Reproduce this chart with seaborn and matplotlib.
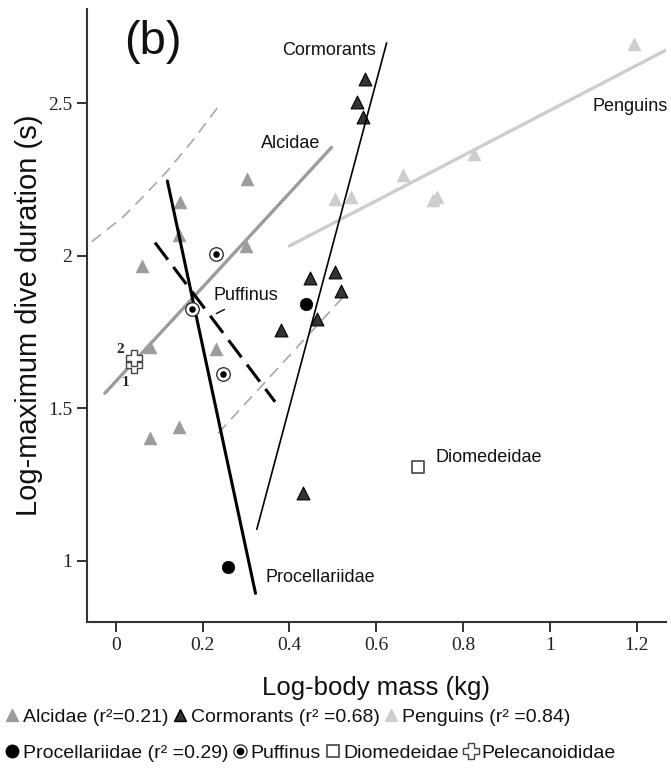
import matplotlib
matplotlib.use("Agg")
import matplotlib.pyplot as plt
import seaborn as sns
import pandas as pd
from matplotlib.lines import Line2D

sns.set_theme(style="white")
plt.rcParams['font.family'] = ['Liberation Sans', 'DejaVu Sans']

# ---------------- data (log body mass kg, log max dive duration s) ----------------
alc_x = [0.302, 0.148, 0.146, 0.300, 0.060, 0.079, 0.231, 0.146, 0.079]
alc_y = [2.250, 2.177, 2.068, 2.032, 1.966, 1.702, 1.694, 1.439, 1.401]
cor_x = [0.574, 0.555, 0.569, 0.505, 0.447, 0.519, 0.463, 0.380, 0.432]
cor_y = [2.578, 2.505, 2.456, 1.946, 1.926, 1.885, 1.792, 1.756, 1.221]
pen_x = [1.194, 0.826, 0.662, 0.731, 0.740, 0.505, 0.543]
pen_y = [2.694, 2.333, 2.265, 2.182, 2.193, 2.186, 2.193]
pro_x = [0.438, 0.258]
pro_y = [1.841, 0.980]
puf_x = [0.231, 0.175, 0.246]
puf_y = [2.005, 1.824, 1.612]
dio_x = [0.696]
dio_y = [1.306]
pel_x = [0.042, 0.042]
pel_y = [1.642, 1.664]
pel_lab = ['1', '2']

# fitted regression lines (end points)
alc_fit_x = [-0.025, 0.497]; alc_fit_y = [1.549, 2.355]
cor_fit_x = [0.325, 0.624]; cor_fit_y = [1.103, 2.698]
pen_fit_x = [0.400, 1.267]; pen_fit_y = [2.032, 2.674]
pro_fit_x = [0.119, 0.322]; pro_fit_y = [2.245, 0.893]
puf_fit_x = [0.0905, 0.367]; puf_fit_y = [2.043, 1.521]
ci_up_x = [-0.055, 0.0175, 0.0636, 0.117, 0.1787, 0.239]
ci_up_y = [2.046, 2.128, 2.194, 2.275, 2.380, 2.494]
ci_lo_x = [0.236, 0.528]; ci_lo_y = [1.418, 1.871]

x_ticks = [0, 0.2, 0.4, 0.6, 0.8, 1, 1.2]
x_ticklabels = ['0', '0.2', '0.4', '0.6', '0.8', '1', '1.2']
y_ticks = [1, 1.5, 2, 2.5]
y_ticklabels = ['1', '1.5', '2', '2.5']

C_ALC = '#9c9c9c'
C_COR = '#333333'
C_PEN = '#cdcdcd'
C_AX = '#333333'

fig = plt.figure(figsize=(6.71, 7.75), dpi=100)
ax = fig.add_axes([0.1292, 0.197, 0.8629, 0.7914])

# ---------------- lines ----------------
def line(x, y, **kw):
    sns.lineplot(x=x, y=y, ax=ax, sort=False, estimator=None, legend=False, **kw)

line(ci_up_x, ci_up_y, color='#a8a8a8', lw=1.2, dashes=(7, 4.5), zorder=1)
line(ci_lo_x, ci_lo_y, color='#a8a8a8', lw=1.2, dashes=(7, 4.5), zorder=1)
line(alc_fit_x, alc_fit_y, color=C_ALC, lw=2.4, zorder=2)
line(pen_fit_x, pen_fit_y, color=C_PEN, lw=2.4, zorder=2)
line(cor_fit_x, cor_fit_y, color='black', lw=1.2, zorder=4)
line(pro_fit_x, pro_fit_y, color='black', lw=2.2, zorder=4)
line(puf_fit_x, puf_fit_y, color='black', lw=2.2, dashes=(7, 3), zorder=4)

# ---------------- points ----------------
def pts(x, y, **kw):
    df = pd.DataFrame({'mass': x, 'dur': y})
    sns.scatterplot(data=df, x='mass', y='dur', ax=ax, legend=False, **kw)

pts(alc_x, alc_y, marker='^', s=85, color=C_ALC, edgecolor=C_ALC, linewidth=0.5, zorder=3)
pts(pen_x, pen_y, marker='^', s=85, color=C_PEN, edgecolor=C_PEN, linewidth=0.5, zorder=3)
pts(cor_x, cor_y, marker='^', s=85, color=C_COR, edgecolor='black', linewidth=0.8, zorder=3)
pts(pro_x, pro_y, marker='o', s=80, color='black', edgecolor='black', linewidth=0.5, zorder=5)
pts(puf_x, puf_y, marker='o', s=95, color='white', edgecolor='#222222', linewidth=0.9, zorder=5)
pts(puf_x, puf_y, marker='o', s=22, color='black', edgecolor='black', linewidth=0, zorder=6)
pts(dio_x, dio_y, marker='s', s=70, color='white', edgecolor='#444444', linewidth=1.2, zorder=5)
pts(pel_x, pel_y, marker='P', s=120, color='white', edgecolor='#444444', linewidth=1.0, zorder=5)

# ---------------- annotations ----------------
ax.text(0.492, 2.674, 'Cormorants', ha='center', va='center', fontsize=13, color='#111111')
ax.text(0.402, 2.368, 'Alcidae', ha='center', va='center', fontsize=13, color='#111111')
ax.text(1.185, 2.488, 'Penguins', ha='center', va='center', fontsize=13, color='#111111')
ax.text(0.859, 1.339, 'Diomedeidae', ha='center', va='center', fontsize=13, color='#111111')
ax.text(0.472, 0.944, 'Procellariidae', ha='center', va='center', fontsize=13, color='#111111')
ax.text(0.299, 1.871, 'Puffinus', ha='center', va='center', fontsize=13, color='#111111')
ax.annotate('', xy=(0.226, 1.806), xytext=(0.256, 1.828),
            arrowprops=dict(arrowstyle='-', color='black', lw=1.0))
for xx, yy, lab in zip([0.0237, 0.0099], [1.583, 1.694], pel_lab):
    ax.text(xx, yy, lab, ha='center', va='center', fontsize=11, fontweight='bold',
            family='Liberation Serif')
ax.text(0.1145, 0.946, '(b)', transform=ax.transAxes, ha='center', va='center',
        fontsize=34, color='#111111')

# ---------------- axes styling ----------------
ax.set_xlim(-0.0668, 1.2667)
ax.set_ylim(0.798, 2.809)
ax.set_xticks(x_ticks)
ax.set_xticklabels(x_ticklabels)
ax.set_yticks(y_ticks)
ax.set_yticklabels(y_ticklabels)
for lab in ax.get_xticklabels() + ax.get_yticklabels():
    lab.set_family('Liberation Serif')
    lab.set_fontsize(14)
    lab.set_color('#222222')
ax.tick_params(axis='both', which='major', direction='out', length=7, width=1.4,
               color=C_AX, bottom=True, left=True, pad=3.5)
for side in ['top', 'right']:
    ax.spines[side].set_visible(False)
for side in ['left', 'bottom']:
    ax.spines[side].set_color(C_AX)
    ax.spines[side].set_linewidth(1.5)
ax.grid(False)

ax.set_xlabel('Log-body mass (kg)', fontsize=18.5, color='#111111')
ax.set_ylabel('Log-maximum dive duration (s)', fontsize=21, color='#111111')
ax.xaxis.set_label_coords(0.5, -0.107)
ax.xaxis.label.set_va('center')
ax.yaxis.set_label_coords(-0.0763, 0.5)

# ---------------- legend ----------------
h_alc = Line2D([], [], ls='', marker='^', markersize=9, markerfacecolor=C_ALC, markeredgecolor=C_ALC)
h_cor = Line2D([], [], ls='', marker='^', markersize=9, markerfacecolor=C_COR, markeredgecolor='black')
h_pen = Line2D([], [], ls='', marker='^', markersize=9, markerfacecolor=C_PEN, markeredgecolor=C_PEN)
h_pro = Line2D([], [], ls='', marker='o', markersize=9, markerfacecolor='black', markeredgecolor='black')
h_puf1 = Line2D([], [], ls='', marker='o', markersize=9.5, markerfacecolor='white', markeredgecolor='#222222', markeredgewidth=0.9)
h_puf2 = Line2D([], [], ls='', marker='o', markersize=4.5, markerfacecolor='black', markeredgecolor='black')
h_dio = Line2D([], [], ls='', marker='s', markersize=8, markerfacecolor='white', markeredgecolor='#444444', markeredgewidth=1.2)
h_pel = Line2D([], [], ls='', marker='P', markersize=11, markerfacecolor='white', markeredgecolor='#444444', markeredgewidth=1.0)

leg_kw = dict(frameon=False, handlelength=0.7, handletextpad=0.2, columnspacing=0.25,
              borderaxespad=0, borderpad=0, fontsize=14, loc='center left')
leg1 = fig.legend([h_alc, h_cor, h_pen],
                  ['Alcidae (r²=0.21)', 'Cormorants (r² =0.68)', 'Penguins (r² =0.84)'],
                  ncol=3, bbox_to_anchor=(0.008, 1 - 717 / 775), **leg_kw)
leg2 = fig.legend([h_pro, (h_puf1, h_puf2), h_dio, h_pel],
                  ['Procellariidae (r² =0.29)', 'Puffinus', 'Diomedeidae', 'Pelecanoididae'],
                  ncol=4, bbox_to_anchor=(0.008, 1 - 753 / 775), **leg_kw)
for leg in (leg1, leg2):
    for t in leg.get_texts():
        t.set_color('#111111')

fig.savefig('out.png', dpi=100)
